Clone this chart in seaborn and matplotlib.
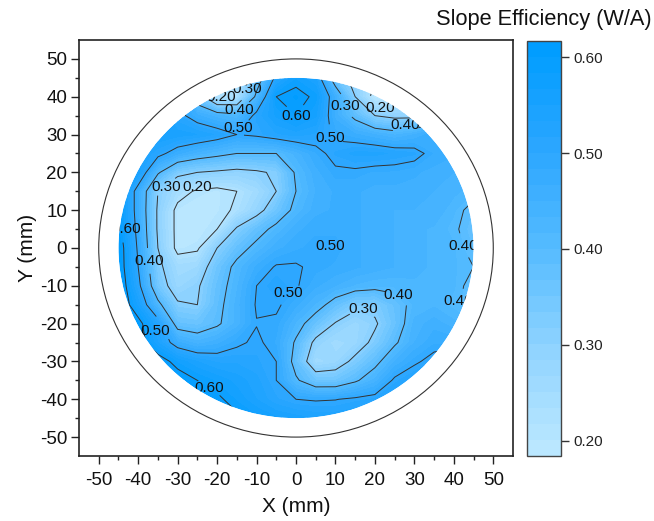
import numpy as np
import seaborn as sns
import matplotlib
matplotlib.use("Agg")
import matplotlib.pyplot as plt
from matplotlib.patches import Circle, Annulus
from matplotlib.colors import BoundaryNorm
from matplotlib.cm import ScalarMappable

x_mm = [-45, -40, -35, -30, -25, -20, -15, -10, -5, 0, 5, 10, 15, 20, 25, 30, 35, 40, 45]
y_mm = [45, 40, 35, 30, 25, 20, 15, 10, 5, 0, -5, -10, -15, -20, -25, -30, -35, -40, -45]

row_p45 = [.60, .58, .45, .30, .20, .15, .20, .35, .52, .58, .55, .35, .27, .20, .16, .16, .20, .25, .30]
row_p40 = [.60, .60, .58, .54, .35, .20, .21, .42, .60, .62, .59, .46, .30, .17, .16, .17, .22, .30, .40]
row_p35 = [.60, .60, .58, .52, .47, .44, .42, .52, .57, .60, .57, .46, .38, .30, .28, .28, .35, .42, .48]
row_p30 = [.58, .58, .57, .56, .55, .53, .50, .51, .53, .54, .53, .49, .47, .45, .43, .45, .48, .50, .50]
row_p25 = [.58, .56, .52, .47, .44, .42, .40, .40, .40, .44, .48, .52, .54, .54, .53, .52, .48, .47, .47]
row_p20 = [.61, .56, .41, .32, .30, .29, .28, .29, .31, .41, .46, .49, .49, .48, .48, .47, .46, .45, .44]
row_p15 = [.62, .47, .30, .23, .19, .18, .20, .24, .30, .40, .45, .47, .47, .46, .46, .46, .45, .44, .42]
row_p10 = [.62, .47, .29, .18, .17, .18, .21, .27, .35, .42, .46, .47, .47, .46, .45, .45, .45, .42, .38]
row_p05 = [.62, .48, .29, .18, .17, .20, .31, .37, .42, .46, .48, .48, .47, .46, .45, .44, .43, .41, .37]
row_000 = [.64, .49, .30, .18, .19, .30, .37, .42, .46, .48, .49, .49, .47, .46, .45, .44, .43, .42, .38]
row_m05 = [.64, .50, .32, .24, .25, .35, .42, .47, .505, .505, .49, .48, .47, .46, .45, .44, .43, .42, .40]
row_m10 = [.65, .52, .34, .26, .29, .37, .43, .50, .53, .505, .47, .45, .43, .42, .42, .43, .43, .42, .38]
row_m15 = [.65, .56, .42, .31, .30, .38, .44, .505, .51, .47, .43, .37, .32, .32, .37, .42, .43, .41, .38]
row_m20 = [.65, .62, .53, .37, .36, .39, .44, .498, .49, .43, .36, .295, .26, .29, .36, .44, .46, .44, .42]
row_m25 = [.65, .63, .55, .47, .44, .46, .49, .51, .48, .39, .28, .24, .26, .32, .39, .45, .48, .48, .46]
row_m30 = [.65, .64, .63, .58, .55, .53, .53, .52, .50, .37, .24, .26, .32, .38, .45, .49, .52, .54, .54]
row_m35 = [.66, .66, .65, .63, .60, .58, .56, .54, .50, .41, .35, .35, .39, .44, .51, .54, .56, .57, .57]
row_m40 = [.66, .66, .66, .65, .63, .61, .58, .55, .52, .50, .495, .498, .51, .52, .55, .57, .58, .59, .59]
row_m45 = [.66, .66, .66, .66, .65, .63, .61, .59, .57, .56, .55, .55, .56, .57, .58, .59, .60, .60, .60]

rows = [row_p45, row_p40, row_p35, row_p30, row_p25, row_p20, row_p15, row_p10, row_p05, row_000,
        row_m05, row_m10, row_m15, row_m20, row_m25, row_m30, row_m35, row_m40, row_m45]

line_levels = [0.2, 0.3, 0.4, 0.5, 0.6]
label_spots = [(-12.4, 42), (-19, 40), (-14.5, 36.5), (-14.7, 31.7), (0, 35), (8.6, 29),
               (12.4, 37.5), (21.3, 37), (27.7, 32.6), (-33, 16), (-25, 16), (-43, 5),
               (-37.3, -3.4), (-35.8, -22), (-22, -37), (-2, -12), (17, -16), (26, -12.5),
               (42.4, 0.6), (41, -14)]
label_names = ["0.30", "0.20", "0.40", "0.50", "0.60", "0.50",
               "0.30", "0.20", "0.40", "0.30", "0.20", "0.60",
               "0.40", "0.50", "0.60", "0.50", "0.30", "0.40",
               "0.40", "0.40"]

sns.set_theme(style="ticks")
plt.rcParams['font.family'] = ['Liberation Sans', 'DejaVu Sans']
plt.rcParams['axes.unicode_minus'] = False

W, H = 654, 521
fig = plt.figure(figsize=(W / 100, H / 100), dpi=100)
ax = fig.add_axes([79 / W, 1 - 456 / H, 434 / W, 416 / H])
cax = fig.add_axes([527 / W, 1 - 456 / H, 34 / W, 415 / H])

cmap = sns.blend_palette(["#BAE7FF", "#8FD3FF", "#55BBFF", "#2BA6FF", "#009DFF"], as_cmap=True)
bands = np.linspace(0.184, 0.617, 27)
norm = BoundaryNorm(bands, cmap.N, extend="both")
z = np.array(rows)

filled = ax.contourf(x_mm, y_mm, z, levels=bands, cmap=cmap, norm=norm, extend="both")
disc = Circle((0, 0), 45, transform=ax.transData)
filled.set_clip_path(disc)

lines = ax.contour(x_mm, y_mm, z, levels=line_levels, colors="#333333", linewidths=0.7)
lines.set_clip_path(disc)
texts = lines.clabel(fmt="%.2f", fontsize=11, colors="#111111", inline=True, inline_spacing=1, manual=label_spots)
for t, spot, name in zip(texts, label_spots, label_names):
    t.set_rotation(0)
    t.set_position(spot)
    t.set_text(name)
    t.set_zorder(4)
ax.text(8.6, 0.6, "0.50", fontsize=11, color="#111111", ha="center", va="center", zorder=4)

# white ring hides the label ends that run past the wafer edge
ax.add_patch(Annulus((0, 0), 50, 5, facecolor="white", edgecolor="none", zorder=5))
ax.add_patch(Circle((0, 0), 50, fill=False, edgecolor="#333333", linewidth=0.8, zorder=6))

ax.set_xlim(-55, 55)
ax.set_ylim(-55, 55)
ax.set_xticks(np.arange(-50, 51, 10))
ax.set_yticks(np.arange(-50, 51, 10))
ax.set_xticks(np.arange(-50, 51, 5), minor=True)
ax.set_yticks(np.arange(-50, 51, 5), minor=True)
ax.tick_params(which="major", length=5.5, width=1, labelsize=13.5, color="#222222", labelcolor="#111111")
ax.tick_params(axis="x", which="major", pad=6)
ax.tick_params(axis="y", which="major", pad=3)
ax.tick_params(which="minor", length=3, width=1, color="#222222")
ax.set_xlabel("X (mm)", fontsize=15, color="#111111", labelpad=6)
ax.set_ylabel("Y (mm)", fontsize=15, color="#111111", labelpad=2)
for s in ax.spines.values():
    s.set_linewidth(1.2)
    s.set_color("#222222")

cb = fig.colorbar(ScalarMappable(norm=BoundaryNorm(bands, cmap.N), cmap=cmap), cax=cax, spacing="proportional")
cb.set_ticks([0.2, 0.3, 0.4, 0.5, 0.6])
cb.set_ticklabels(["0.20", "0.30", "0.40", "0.50", "0.60"])
cb.minorticks_off()
cax.tick_params(length=6, width=1, labelsize=11, color="#333333", labelcolor="#222222", pad=3)
cb.outline.set_linewidth(1)
cb.outline.set_edgecolor("#444444")

fig.text(652 / W, 1 - 20 / H, "Slope Efficiency (W/A)", fontsize=15.7, color="#111111", ha="right", va="center")

fig.savefig("out.png", dpi=100)
